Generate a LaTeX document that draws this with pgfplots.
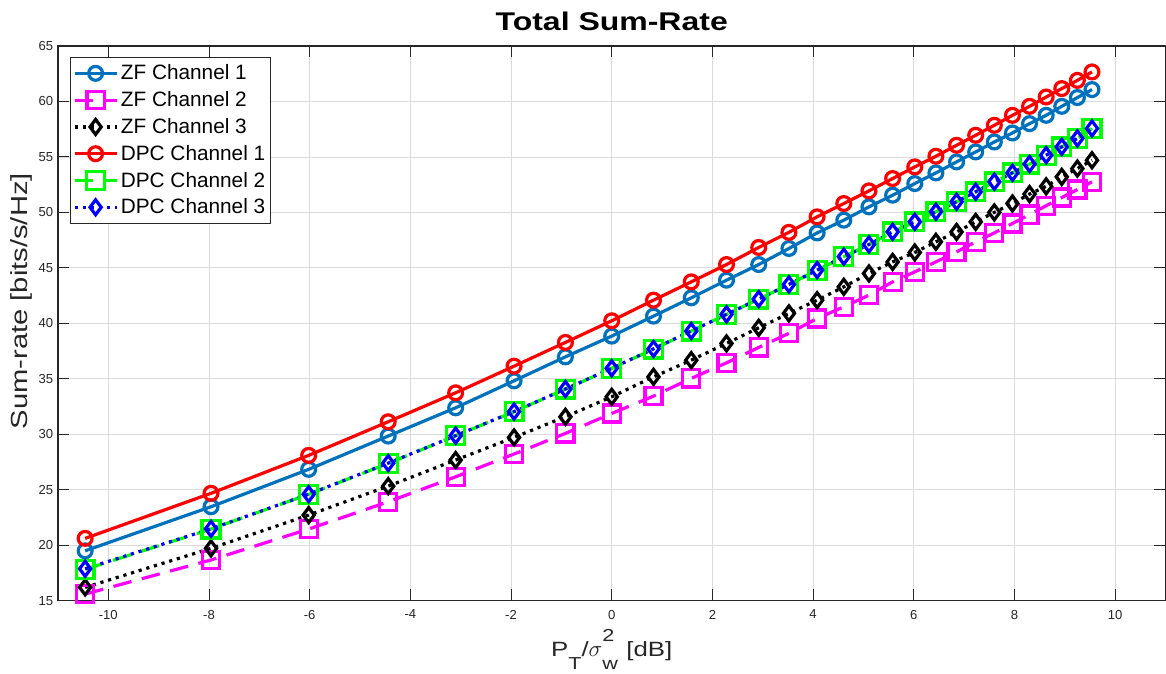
\documentclass[border=0pt]{standalone}
\usepackage{fontspec}
\setmainfont{Liberation Sans}
\newfontfamily\widefont{Liberation Sans}[FakeStretch=1.25]
\usepackage{pgfplots}
\pgfplotsset{compat=1.18}
\usepackage{pgfplotstable}

\definecolor{zfone}{rgb}{0,0.447,0.741}
\definecolor{mag}{rgb}{1,0,1}
\definecolor{grn}{rgb}{0,1,0}
\definecolor{blu}{rgb}{0,0,1}
\definecolor{rd}{rgb}{1,0,0}
\definecolor{axgray}{rgb}{0.15,0.15,0.15}

\pgfplotstableread{
x      zf1    zf2    zf3    dpc1   dpc2   dpc3
-10.46 19.50  15.60  16.20  20.62  17.83  17.88
-7.96  23.47  18.67  19.72  24.68  21.46  21.48
-6.02  26.84  21.46  22.72  28.10  24.59  24.60
-4.44  29.84  23.92  25.33  31.13  27.38  27.40
-3.10  32.39  26.17  27.68  33.74  29.87  29.88
-1.94  34.82  28.22  29.72  36.14  32.03  32.05
-0.92  36.98  30.08  31.58  38.28  34.07  34.08
0.00   38.85  31.88  33.38  40.23  35.94  35.95
0.83   40.65  33.44  35.18  42.09  37.68  37.70
1.58   42.30  35.04  36.68  43.74  39.30  39.31
2.28   43.89  36.44  38.19  45.30  40.80  40.81
2.92   45.30  37.83  39.60  46.84  42.18  42.19
3.52   46.75  39.10  40.90  48.20  43.50  43.51
4.08   48.15  40.44  42.09  49.60  44.79  44.80
4.61   49.30  41.49  43.29  50.80  46.00  46.01
5.11   50.50  42.54  44.50  51.94  47.10  47.11
5.58   51.55  43.74  45.54  53.05  48.24  48.25
6.02   52.60  44.64  46.39  54.10  49.14  49.15
6.44   53.56  45.54  47.35  55.06  50.05  50.06
6.85   54.55  46.44  48.24  56.05  50.95  50.96
7.23   55.45  47.35  49.14  56.95  51.85  51.86
7.60   56.35  48.15  50.00  57.85  52.75  52.76
7.96   57.16  49.00  50.80  58.75  53.56  53.57
8.30   58.00  49.80  51.65  59.56  54.35  54.36
8.63   58.75  50.60  52.35  60.40  55.15  55.16
8.94   59.56  51.34  53.20  61.16  55.90  55.91
9.25   60.35  52.06  53.95  61.90  56.66  56.67
9.54   61.07  52.75  54.70  62.66  57.56  57.57
}\data

\pgfplotsset{
  lw/.style={line width=2.4pt},
  dashedML/.style={dash pattern=on 14pt off 8pt},
  dottedML/.style={dash pattern=on 2.4pt off 3.6pt},
}

\begin{document}
\begin{tikzpicture}
\path (-43.5pt,-54pt) rectangle (831pt,450.75pt);
\begin{axis}[
  at={(0,0)}, anchor=south west,
  scale only axis,
  width=831pt, height=416.25pt,
  xmin=-11, xmax=11, ymin=15, ymax=65,
  xtick={-10,-8,...,10},
  ytick={15,20,...,65},
  tick align=inside,
  major tick length=8.5pt,
  xtick pos=both, ytick pos=both,
  grid=major,
  grid style={draw=black!14, line width=0.6pt},
  axis line style={draw=axgray, line width=0.8pt},
  tick style={draw=axgray, line width=0.7pt},
  /pgf/number format/assume math mode=true,
  ticklabel style={font=\fontsize{9.8}{11}\selectfont, text=axgray},
  xticklabel style={yshift=-3.4pt},
  every axis title/.style={at={(axis description cs:0.5,1)}, anchor=base, yshift=11.25pt,
     font=\fontsize{19.2}{22}\selectfont\widefont\bfseries},
  title={Total Sum-Rate},
  every axis x label/.style={at={(axis description cs:0.5,0)}, anchor=base, yshift=-42pt,
     font=\fontsize{15.5}{18}\selectfont\widefont, text=axgray},
  every axis y label/.style={at={(axis description cs:0,0.54)}, anchor=base, xshift=-22.5pt,
     rotate=90, font=\fontsize{17.5}{20}\selectfont\widefont, text=axgray},
  xlabel={P\raisebox{-9.5pt}{\fontsize{13}{14}\selectfont T}/{\fontsize{19}{20}\selectfont$\sigma$}\rlap{\raisebox{-9.5pt}{\fontsize{13}{14}\selectfont w}}\raisebox{11.5pt}{\fontsize{13}{14}\selectfont 2}\hspace{9pt}[dB]},
  ylabel={Sum-rate [bits/s/Hz]},
  legend style={at={(0.0108,0.980)}, anchor=north west, draw=axgray, line width=0.6pt,
     font=\fontsize{15.6}{18}\selectfont, row sep=4.3pt, inner xsep=2pt, inner ysep=4pt,
     nodes={inner xsep=2pt, inner ysep=1.5pt}},
  legend cell align=left,
  legend image code/.code={%
    \draw[#1] (0pt,0pt) -- (31.5pt,0pt);
    \draw[#1, solid] plot coordinates {(15.75pt,0pt)};},
]
\addplot[color=zfone, lw, solid, mark=o, mark size=5.2pt, mark options={solid}] table[x=x,y=zf1] {\data};
\addlegendentry{ZF Channel 1}
\addplot[color=mag, lw, dashedML, mark=square, mark size=6.4pt, mark options={solid}] table[x=x,y=zf2] {\data};
\addlegendentry{ZF Channel 2}
\addplot[color=black, lw, dottedML, mark=diamond, mark size=5.6pt, mark options={solid}] table[x=x,y=zf3] {\data};
\addlegendentry{ZF Channel 3}
\addplot[color=rd, lw, solid, mark=o, mark size=5.2pt, mark options={solid}] table[x=x,y=dpc1] {\data};
\addlegendentry{DPC Channel 1}
\addplot[color=grn, lw, dashedML, mark=square, mark size=6.7pt, mark options={solid}] table[x=x,y=dpc2] {\data};
\addlegendentry{DPC Channel 2}
\addplot[color=blu, lw, dottedML, mark=diamond, mark size=5.6pt, mark options={solid}] table[x=x,y=dpc3] {\data};
\addlegendentry{DPC Channel 3}
\end{axis}
\end{tikzpicture}
\end{document}
